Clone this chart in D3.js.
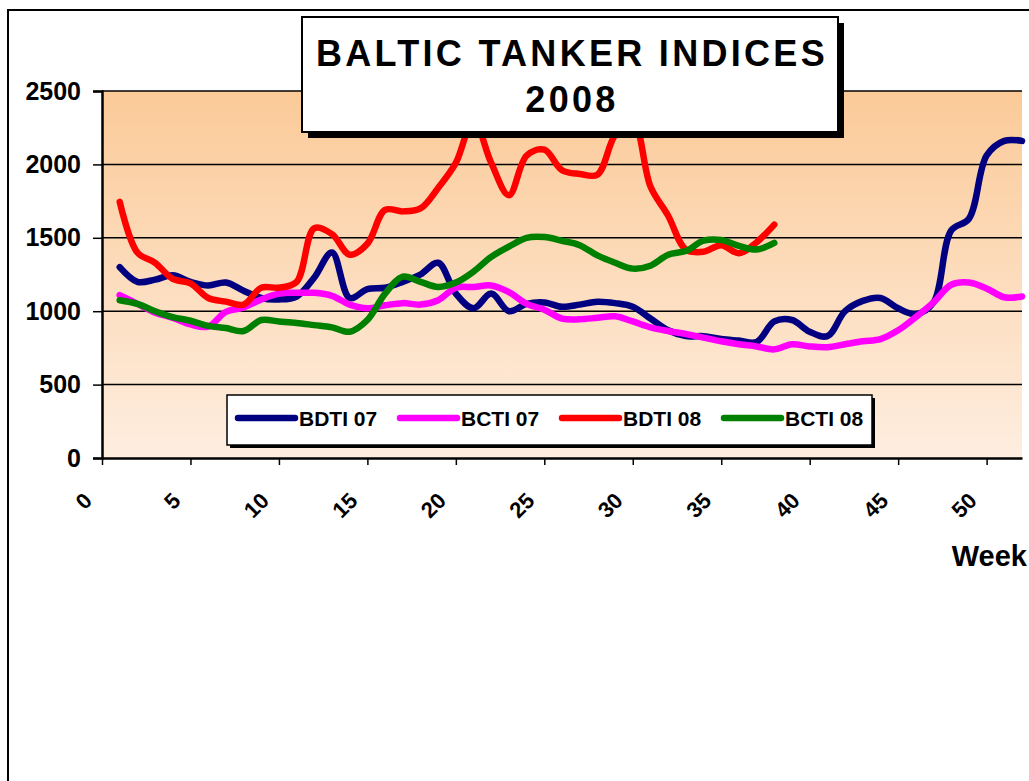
<!DOCTYPE html>
<html>
<head>
<meta charset="utf-8">
<script src="https://cdn.jsdelivr.net/npm/d3@7"></script>
<style>
  body { margin: 0; background: #fff; }
  svg { display: block; font-family: Arial, "Liberation Sans", sans-serif; }
</style>
</head>
<body>
<div id="chart"></div>
<script>
// weekly index values
var weeks07 = d3.range(1, 53);
var weeks08 = d3.range(1, 39);

var bdti07 = [1300, 1200, 1215, 1245, 1200, 1175, 1195, 1140, 1090, 1080,
  1100, 1230, 1400, 1090, 1150, 1160, 1200, 1250, 1330, 1120,
  1020, 1120, 1000, 1050, 1060, 1030, 1045, 1065, 1055, 1030,
  950, 870, 830, 830, 810, 800, 790, 930, 940, 860,
  830, 1000, 1070, 1090, 1020, 980, 1060, 1550, 1630, 2060,
  2160, 2160];
var bcti07 = [1110, 1050, 990, 955, 910, 895, 995, 1025, 1080, 1120,
  1125, 1125, 1105, 1045, 1020, 1040, 1055, 1045, 1075, 1160,
  1165, 1175, 1130, 1050, 1010, 950, 945, 955, 965, 930,
  890, 865, 845, 820, 795, 775, 760, 740, 775, 760,
  755, 775, 795, 810, 870, 960, 1060, 1180, 1195, 1155,
  1095, 1100];
var bdti08 = [1745, 1400, 1330, 1220, 1190, 1090, 1065, 1045, 1160, 1160,
  1200, 1565, 1525, 1385, 1460, 1690, 1680, 1700, 1840, 2010,
  2300, 2010, 1790, 2060, 2100, 1960, 1935, 1930, 2200, 2300,
  1850, 1650, 1420, 1405, 1450, 1395, 1470, 1590];
var bcti08 = [1075, 1050, 1000, 960, 935, 900, 885, 865, 940, 930,
  920, 905, 890, 860, 940, 1120, 1235, 1200, 1165, 1195,
  1270, 1370, 1440, 1500, 1505, 1480, 1450, 1380, 1330, 1290,
  1310, 1385, 1410, 1480, 1485, 1445, 1420, 1465];

var seriesNames = ["BDTI 07", "BCTI 07", "BDTI 08", "BCTI 08"];
var seriesColors = ["#000080", "#ff00ff", "#ff0000", "#008000"];
var yTicks = [0, 500, 1000, 1500, 2000, 2500];
var xTicks = d3.range(0, 51, 5);

var series = [
  {name: seriesNames[0], color: seriesColors[0], weeks: weeks07, values: bdti07},
  {name: seriesNames[1], color: seriesColors[1], weeks: weeks07, values: bcti07},
  {name: seriesNames[2], color: seriesColors[2], weeks: weeks08, values: bdti08},
  {name: seriesNames[3], color: seriesColors[3], weeks: weeks08, values: bcti08}
];

var width = 1029, height = 781;
var svg = d3.select("#chart").append("svg")
  .attr("width", width)
  .attr("height", height);

// outer chart frame (runs off the page on the right and bottom)
svg.append("path")
  .attr("d", "M8,790 L8,10 L1040,10")
  .attr("fill", "none")
  .attr("stroke", "#000")
  .attr("stroke-width", 2);

var x = d3.scaleLinear().domain([0, 52]).range([102, 1022]);
var y = d3.scaleLinear().domain([0, 2500]).range([458, 91]);

// plot background gradient
var grad = svg.append("defs").append("linearGradient")
  .attr("id", "bg").attr("x1", 0).attr("y1", 0).attr("x2", 0).attr("y2", 1);
grad.append("stop").attr("offset", "0%").attr("stop-color", "#fbca98");
grad.append("stop").attr("offset", "100%").attr("stop-color", "#feeee0");

svg.append("rect")
  .attr("x", x(0)).attr("y", y(2500))
  .attr("width", x(52) - x(0)).attr("height", y(0) - y(2500))
  .attr("fill", "url(#bg)");

// gridlines
svg.append("g")
  .selectAll("line")
  .data(yTicks.filter(function (d) { return d > 0; }))
  .enter()
  .append("line")
    .attr("x1", x(0)).attr("x2", x(52))
    .attr("y1", function (d) { return y(d); })
    .attr("y2", function (d) { return y(d); })
    .attr("stroke", "#000")
    .attr("stroke-width", 1.5);

// Y axis
var yAxis = svg.append("g")
  .attr("transform", "translate(" + x(0) + ",0)")
  .call(d3.axisLeft(y).tickValues(yTicks).tickFormat(d3.format("d")).tickSize(9).tickPadding(12));
yAxis.select(".domain").attr("stroke-width", 2.5);
yAxis.selectAll(".tick line").attr("stroke-width", 1.5);
yAxis.selectAll("text")
  .style("font-size", "25px")
  .style("font-weight", "bold")
  .attr("fill", "#000");

// X axis
var xAxis = svg.append("g")
  .attr("transform", "translate(0," + y(0) + ")")
  .call(d3.axisBottom(x).tickValues(xTicks).tickSize(7).tickSizeOuter(0));
xAxis.select(".domain").attr("stroke-width", 2.5);
xAxis.selectAll(".tick line").attr("stroke-width", 1.5);
xAxis.selectAll("text")
  .style("font-size", "22px")
  .style("font-weight", "bold")
  .attr("fill", "#000")
  .attr("text-anchor", "end")
  .attr("y", 0).attr("dy", 0)
  .attr("transform", "translate(-9,44) rotate(-45)");

svg.append("text")
  .attr("x", 1027).attr("y", 566)
  .attr("text-anchor", "end")
  .style("font-size", "29px")
  .style("font-weight", "bold")
  .text("Week");

// lines
var line = d3.line()
  .x(function (d) { return x(d[0]); })
  .y(function (d) { return y(d[1]); })
  .curve(d3.curveCatmullRom);

svg.append("g")
  .selectAll("path")
  .data(series)
  .enter()
  .append("path")
    .attr("d", function (s) { return line(d3.zip(s.weeks, s.values)); })
    .attr("fill", "none")
    .attr("stroke", function (s) { return s.color; })
    .attr("stroke-width", 6.5)
    .attr("stroke-linecap", "round")
    .attr("stroke-linejoin", "round");

// title box
svg.append("rect")
  .attr("x", 308).attr("y", 23).attr("width", 536).attr("height", 115)
  .attr("fill", "#000");
svg.append("rect")
  .attr("x", 302).attr("y", 17).attr("width", 536).attr("height", 115)
  .attr("fill", "#fff").attr("stroke", "#000").attr("stroke-width", 2);
var title = svg.append("text")
  .attr("text-anchor", "middle")
  .style("font-size", "36px")
  .style("font-weight", "bold")
  .attr("letter-spacing", "3.3px");
title.append("tspan").attr("x", 572).attr("y", 66).text("BALTIC TANKER INDICES");
title.append("tspan").attr("x", 572).attr("y", 112).text("2008");

// legend
svg.append("rect")
  .attr("x", 230).attr("y", 398).attr("width", 645).attr("height", 50)
  .attr("fill", "#000");
svg.append("rect")
  .attr("x", 227).attr("y", 395).attr("width", 645).attr("height", 50)
  .attr("fill", "#fff").attr("stroke", "#000").attr("stroke-width", 1.5);

var legend = svg.append("g")
  .selectAll("g")
  .data(series)
  .enter()
  .append("g")
    .attr("transform", function (d, i) { return "translate(" + (238 + 162 * i) + ",418)"; });
legend.append("line")
  .attr("x1", 0).attr("x2", 57)
  .attr("stroke", function (d) { return d.color; })
  .attr("stroke-width", 6.5)
  .attr("stroke-linecap", "round");
legend.append("text")
  .attr("x", 61).attr("y", 8)
  .style("font-size", "21px")
  .style("font-weight", "bold")
  .text(function (d) { return d.name; });
</script>
</body>
</html>
